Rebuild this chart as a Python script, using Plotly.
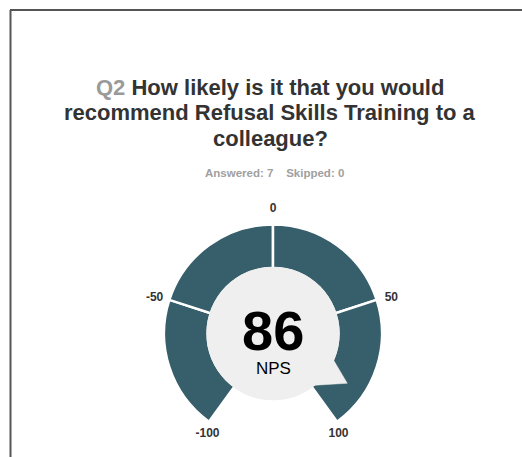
import math
import plotly.graph_objects as go

# ---- data ----
nps_value = 86
scale_ticks = [-100, -50, 0, 50, 100]
tick_labels = ["-100", "-50", "0", "50", "100"]
segment_bounds = [(-100, -50), (-50, 0), (0, 50), (50, 100)]
answered = 7
skipped = 0
question_no = "Q2"
title_lines = ["How likely is it that you would",
               "recommend Refusal Skills Training to a",
               "colleague?"]

# ---- style ----
W, H = 522, 457
CX, CY, R = 273, 333.5, 109          # gauge centre / outer radius in px
DEG_PER_UNIT = 144 / 100             # gauge spans 288 degrees
SECTOR_HALF = 152                    # visible sector of the gauge subplot
RING_IN, RING_OUT = 0.55, 1.0
RMAX = 1.2                           # radial range of gauge subplot
DISC = 0.612
TIP = 0.82
LABEL_R = [1.10, 1.133, 1.142, 1.133, 1.10]
LABEL_SPREAD = 1.02
DARK = "#365e6b"
DISC_COL = "#efefef"
FONT = "Liberation Sans, Arial, sans-serif"


def ang(v):
    return v * DEG_PER_UNIT


fig = go.Figure()

# ring segments
fig.add_trace(go.Barpolar(
    theta=[ang((a + b) / 2) for a, b in segment_bounds],
    width=[ang(b) - ang(a) for a, b in segment_bounds],
    r=[RING_OUT - RING_IN] * len(segment_bounds),
    base=[RING_IN] * len(segment_bounds),
    marker=dict(color=DARK, line=dict(color="white", width=2.5)),
    hoverinfo="skip", subplot="polar",
))

# pointer tail toward value
va = ang(nps_value)
fig.add_trace(go.Scatterpolar(
    r=[DISC * 0.97, TIP, DISC * 0.97],
    theta=[va - 11, va, va + 19.5],
    mode="lines", fill="toself", fillcolor=DISC_COL,
    line=dict(color=DISC_COL, width=0.5),
    hoverinfo="skip", subplot="polar",
))

# scale labels
fig.add_trace(go.Scatterpolar(
    r=LABEL_R,
    theta=[ang(t) * LABEL_SPREAD for t in scale_ticks],
    mode="text", text=tick_labels, textposition="middle center",
    textfont=dict(family=FONT, size=12, color="#333333", weight="bold"),
    cliponaxis=False, hoverinfo="skip", subplot="polar",
))

# central disc (own full-circle subplot)
fig.add_trace(go.Barpolar(
    theta=[45, 135, 225, 315],
    width=[90] * 4,
    r=[1] * 4,
    base=[0] * 4,
    marker=dict(color=DISC_COL, line=dict(color=DISC_COL, width=0.5)),
    hoverinfo="skip", subplot="polar2",
))

# domains
Rp = R * RMAX
low = math.cos(math.radians(180 - SECTOR_HALF))   # how far sector dips below centre
dom1 = dict(x=[(CX - Rp) / W, (CX + Rp) / W],
            y=[(H - (CY + low * Rp)) / H, (H - (CY - Rp)) / H])
Rd = R * DISC
dom2 = dict(x=[(CX - Rd) / W, (CX + Rd) / W],
            y=[(H - CY - Rd) / H, (H - CY + Rd) / H])

hidden_radial = dict(visible=False, showgrid=False, showline=False)
hidden_ang = dict(visible=False, rotation=90, direction="clockwise",
                  showgrid=False, showline=False)

fig.update_layout(
    width=W, height=H,
    margin=dict(l=0, r=0, t=0, b=0),
    paper_bgcolor="white", plot_bgcolor="white",
    showlegend=False,
    polar=dict(domain=dom1, bgcolor="rgba(0,0,0,0)", barmode="overlay",
               sector=[90 - SECTOR_HALF, 90 + SECTOR_HALF],
               radialaxis=dict(hidden_radial, range=[0, RMAX]),
               angularaxis=hidden_ang),
    polar2=dict(domain=dom2, bgcolor=DISC_COL, barmode="overlay",
                radialaxis=dict(hidden_radial, range=[0, 1]),
                angularaxis=hidden_ang),
)

annotations = []
line_y = [87, 112.5, 138]
for i, (txt, yy) in enumerate(zip(title_lines, line_y)):
    if i == 0:
        txt = f"<span style='color:#9a9a9a'>{question_no}</span> {txt}"
    annotations.append(dict(
        x=270 / W, y=(H - yy) / H, xref="paper", yref="paper",
        xanchor="center", yanchor="middle", showarrow=False,
        text=txt, font=dict(family=FONT, size=22, color="#333333", weight="bold")))

annotations += [
    dict(x=274 / W, y=(H - 173) / H, xref="paper", yref="paper",
         xanchor="center", yanchor="middle", showarrow=False,
         text=f"Answered: {answered}\u00a0\u00a0\u00a0\u00a0Skipped: {skipped}",
         font=dict(family=FONT, size=11.5, color="#a0a0a0", weight="bold")),
    dict(x=CX / W, y=(H - 330) / H, xref="paper", yref="paper",
         xanchor="center", yanchor="middle", showarrow=False,
         text=str(nps_value),
         font=dict(family=FONT, size=56, color="#000000", weight="bold")),
    dict(x=CX / W, y=(H - 368) / H, xref="paper", yref="paper",
         xanchor="center", yanchor="middle", showarrow=False,
         text="NPS",
         font=dict(family=FONT, size=17, color="#000000")),
]
fig.update_layout(annotations=annotations)

# page frame (top and left edges)
fig.update_layout(shapes=[
    dict(type="line", xref="paper", yref="paper", x0=10 / W, x1=1, y0=(H - 10) / H, y1=(H - 10) / H,
         line=dict(color="#555555", width=2)),
    dict(type="line", xref="paper", yref="paper", x0=10.5 / W, x1=10.5 / W, y0=0, y1=(H - 10) / H,
         line=dict(color="#555555", width=2)),
])

fig.write_html("out.html", config={"displayModeBar": False})
